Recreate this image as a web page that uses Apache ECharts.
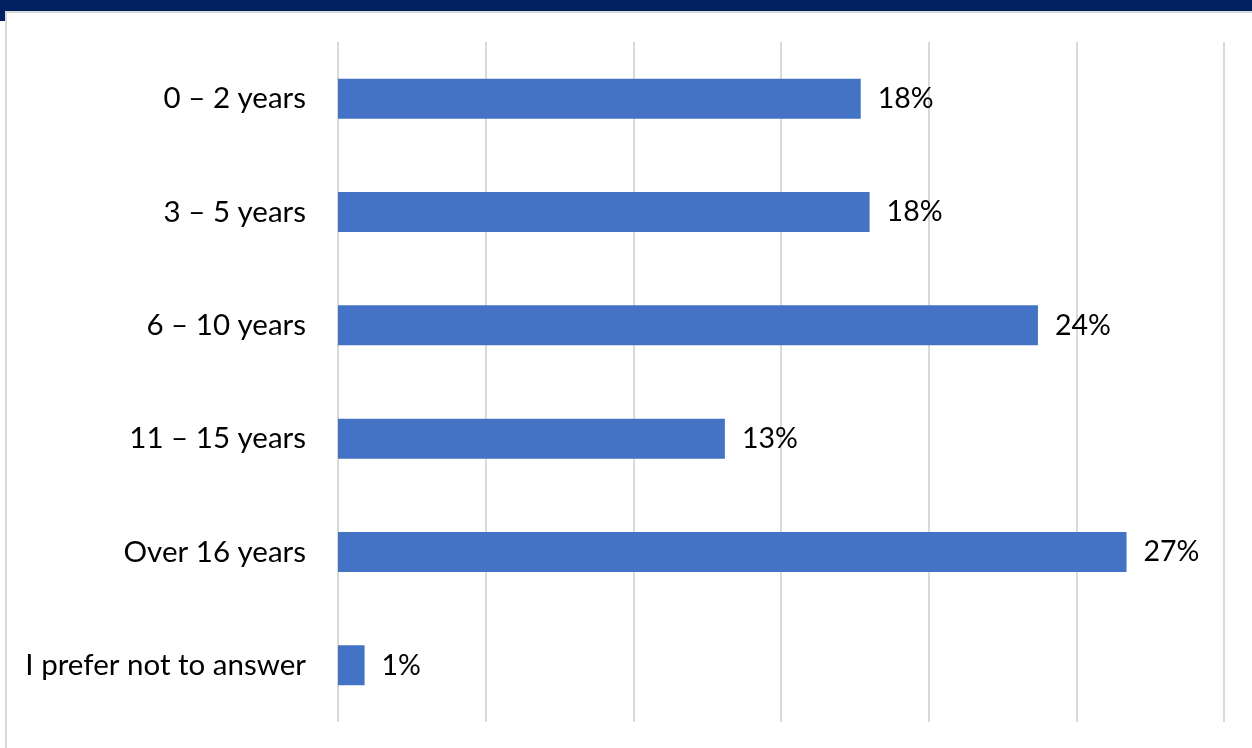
<!DOCTYPE html>
<html><head><meta charset="utf-8">
<script src="https://cdn.jsdelivr.net/npm/echarts@6/dist/echarts.min.js"></script>
<style>html,body{margin:0;padding:0;background:#fff}#c{width:1252px;height:748px}</style>
</head><body><div id="c"></div>
<script>
const categories = ['0 – 2 years','3 – 5 years','6 – 10 years','11 – 15 years','Over 16 years','I prefer not to answer'];
const values = [17.7, 18.0, 23.7, 13.1, 26.7, 0.9];
const labels = ['18%','18%','24%','13%','27%','1%'];
const chart = echarts.init(document.getElementById('c'));
const FONT = 'Lato';
chart.setOption({
  animation:false,
  backgroundColor:'#ffffff',
  graphic:[
    {type:'rect',shape:{x:0,y:0,width:1252,height:11},style:{fill:'#002060'}},
    {type:'rect',shape:{x:0,y:0,width:5,height:21},style:{fill:'#002060'}},
    {type:'rect',shape:{x:5,y:11,width:1247,height:2},style:{fill:'#d9d9d9'}},
    {type:'rect',shape:{x:5,y:11,width:2,height:737},style:{fill:'#d9d9d9'}}
  ],
  grid:{left:338,right:28,top:42,bottom:26},
  xAxis:{type:'value',min:0,max:30,interval:5,
    axisLabel:{show:false},axisLine:{show:false},axisTick:{show:false},
    splitLine:{lineStyle:{color:'#d9d9d9',width:2}}},
  yAxis:{type:'category',data:categories,inverse:true,
    axisLine:{show:false},axisTick:{show:false},
    axisLabel:{color:'#000',fontSize:29.5,fontFamily:FONT,margin:32}},
  series:[{type:'bar',data:values,barWidth:40,
    itemStyle:{color:'#4472c4'},
    label:{show:true,position:'right',distance:17,color:'#000',fontSize:28.5,fontFamily:FONT,
      formatter:p=>labels[p.dataIndex]}}]
});
</script></body></html>
